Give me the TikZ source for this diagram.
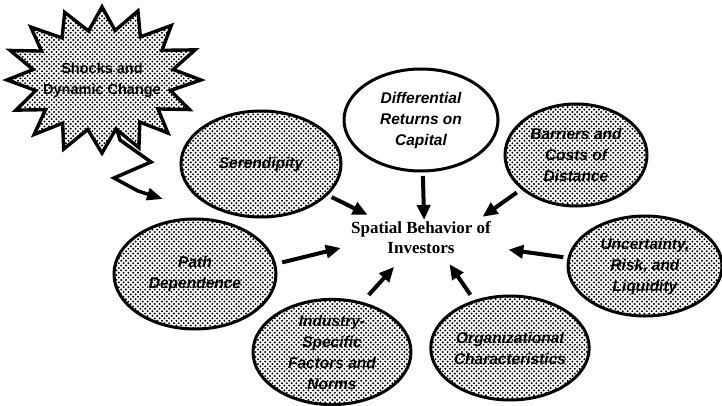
\documentclass[tikz,border=0pt]{standalone}
\usepackage{fontspec}
\setmainfont{Liberation Serif}
\newfontfamily\lblfont{Liberation Sans}
\usetikzlibrary{shapes.geometric,arrows.meta,patterns}
\pgfdeclarepatternformonly{htdots}{\pgfpoint{-1pt}{-1pt}}{\pgfpoint{5.8pt}{5.8pt}}{\pgfpoint{4.8pt}{4.8pt}}{%
  \pgfpathcircle{\pgfpoint{1.2pt}{1.2pt}}{1.1pt}%
  \pgfpathcircle{\pgfpoint{3.6pt}{3.6pt}}{1.1pt}%
  \pgfusepath{fill}}
\begin{document}
\begin{tikzpicture}[x=1pt,y=-1pt,
  lbl/.style={align=center, font=\lblfont\bfseries\itshape\fontsize{15.5}{21}\selectfont},
  bubble/.style={ellipse, draw=black, line width=3pt, preaction={fill=white}, pattern=htdots, pattern color=black, inner sep=0pt, outer sep=0pt, lbl},
  plainbubble/.style={ellipse, draw=black, line width=3pt, fill=white, inner sep=0pt, outer sep=0pt, lbl},
  hub/.style={ellipse, inner sep=0pt, outer sep=0pt, minimum width=180pt, minimum height=56pt},
  hubtext/.style={align=center, font=\bfseries\fontsize{17}{20}\selectfont},
  arr/.style={line width=4pt, -{Triangle[length=15pt,width=13pt]}},
  bolt/.style={line width=3.5pt, line join=miter, -{Triangle[length=16pt,width=12pt]}},
  starshape/.style={draw=black, line width=3.4pt, line join=miter, preaction={fill=white}, pattern=htdots, pattern color=black},
  startext/.style={align=center, font=\lblfont\bfseries\fontsize{14.5}{21}\selectfont}
]
\useasboundingbox (0,0) rectangle (722,406);

% lightning bolt from the starburst
\coordinate (shockc) at (102,80);
\coordinate (b1) at (120,140);
\coordinate (b2) at (151,162);
\coordinate (b3) at (114,178);
\coordinate (b4) at (138,191);
\coordinate (shockend) at (163,199);
\draw[bolt] (shockc) -- (b1) -- (b2) -- (b3) -- (b4) -- (shockend);

% starburst
\path[starshape] plot[samples at={0,11.25,...,348.75}]
  ({102+(83.5+13.5*cos(16*\x))*(1+0.04*sin(3*\x+30))*cos(\x)},
   {80-(64+12*cos(16*\x))*(1+0.04*sin(2*\x+70))*sin(\x)}) -- cycle;
\node[startext] (shock) at (shockc) {Shocks and\\Dynamic Change};

% factor bubbles
\node[bubble, minimum width=160pt, minimum height=106pt] (ser) at (261,164) {Serendipity};
\node[plainbubble, minimum width=154pt, minimum height=102pt] (dif) at (421,120) {Differential\\Returns on\\Capital};
\node[bubble, minimum width=142pt, minimum height=102pt] (bar) at (576,155) {Barriers and\\Costs of\\Distance};
\node[bubble, minimum width=154pt, minimum height=100pt] (unc) at (645,266) {Uncertainty,\\Risk, and\\Liquidity};
\node[bubble, minimum width=162pt, minimum height=110pt] (pat) at (195,274) {Path\\Dependence};
\node[bubble, minimum width=158pt, minimum height=104pt] (ind) at (332,352) {Industry-\\Specific\\Factors and\\Norms};
\node[bubble, minimum width=158pt, minimum height=104pt] (org) at (510,348) {Organizational\\Characteristics};

% hub
\node[hub] (ctr) at (421,242) {};
\node[hubtext] (ctrlabel) at (421,238) {Spatial Behavior of\\Investors};

% arrows into the hub
\draw[arr, shorten <=5.8pt, shorten >=7.2pt] (ser.-25.6) -- (ctr.153.4);
\draw[arr, shorten <=5pt, shorten >=-6pt] (dif.-88) -- (ctr.84.8);
\draw[arr, shorten <=7pt, shorten >=6pt] (bar.212.3) -- (ctr.21.2);
\draw[arr, shorten <=7.7pt, shorten >=-6.6pt] (pat.7.8) -- (ctr.185.8);
\draw[arr, shorten <=5.7pt, shorten >=0.7pt] (unc.174.5) -- (ctr.-5.3);
\draw[arr, shorten <=11pt, shorten >=-2.3pt] (ind.59.3) -- (ctr.223.9);
\draw[arr, shorten <=8pt, shorten >=-5pt] (org.127) -- (ctr.-40.4);
\end{tikzpicture}
\end{document}
